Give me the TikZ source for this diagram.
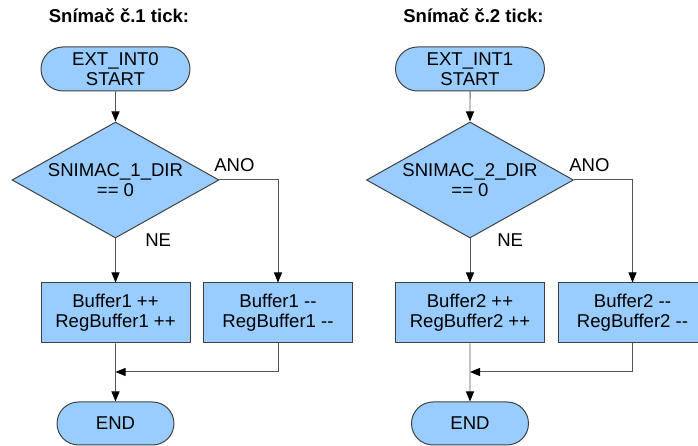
\documentclass[tikz,border=0pt]{standalone}
\usepackage{fontspec}
\setmainfont{Liberation Sans}
\usetikzlibrary{shapes.geometric,shapes.misc,arrows.meta}
\definecolor{boxblue}{HTML}{99CCFF}
\definecolor{linegray}{HTML}{555555}
\tikzset{
  base/.style={draw=black!75, fill=boxblue, line width=0.7pt, align=center, inner sep=0pt, font=\fontsize{13.2}{14.2}\selectfont},
  startstop/.style={base, rounded rectangle, minimum width=3.725cm, minimum height=1.1cm},
  endstop/.style={base, rounded rectangle, minimum width=2.925cm, minimum height=1.075cm},
  decision/.style={base, diamond, aspect=1.785, minimum width=5.175cm, minimum height=2.9cm},
  process/.style={base, rectangle, minimum width=3.725cm, minimum height=1.5cm},
  arrow/.style={draw=linegray, line width=0.7pt, -{Triangle[length=2.5mm,width=2mm,color=black]}},
  branch/.style={font=\fontsize{13.2}{14.2}\selectfont, inner sep=0pt},
  heading/.style={font=\bfseries\fontsize{13.2}{14.2}\selectfont, inner sep=0pt}
}
\begin{document}
\begin{tikzpicture}
        \clip (0,0) rectangle (17.45,11.15);

        % first sensor
        \node [heading, anchor=base] (title1) at (2.975,10.575) {Snímač č.1 tick:};
        \node [startstop] (start1) at (2.8875,9.425) {EXT\_INT0\\START};
        \node [decision] (test1) at (2.8875,6.65) {SNIMAC\_1\_DIR\\== 0};
        \node [process] (plus1) at (2.8875,3.325) {Buffer1 ++\\RegBuffer1 ++};
        \node [process] (minus1) at (6.95,3.325) {Buffer1 {-}{-}\\RegBuffer1 {-}{-}};
        \coordinate (merge1) at (2.8875,1.85);
        \node [endstop] (end1) at (2.8875,0.5625) {END};
        \node [branch, anchor=base west] (ano1) at (5.35,6.85) {ANO};
        \node [branch, anchor=base west] (ne1) at (3.625,4.975) {NE};
        \draw [arrow] (start1) -- (test1);
        \draw [arrow] (test1) -- (plus1);
        \draw [arrow] (test1.east) -| (minus1.north);
        \draw [arrow] (minus1.south) |- (merge1);
        \draw [arrow] (plus1) -- (end1);

        % second sensor
        \node [heading, anchor=base] (title2) at (11.8375,10.575) {Snímač č.2 tick:};
        \node [startstop] (start2) at (11.75,9.425) {EXT\_INT1\\START};
        \node [decision] (test2) at (11.75,6.65) {SNIMAC\_2\_DIR\\== 0};
        \node [process] (plus2) at (11.75,3.325) {Buffer2 ++\\RegBuffer2 ++};
        \node [process] (minus2) at (15.8125,3.325) {Buffer2 {-}{-}\\RegBuffer2 {-}{-}};
        \coordinate (merge2) at (11.75,1.85);
        \node [endstop] (end2) at (11.75,0.5625) {END};
        \node [branch, anchor=base west] (ano2) at (14.225,6.85) {ANO};
        \node [branch, anchor=base west] (ne2) at (12.425,4.975) {NE};
        \draw [arrow] (start2) -- (test2);
        \draw [arrow] (test2) -- (plus2);
        \draw [arrow] (test2.east) -| (minus2.north);
        \draw [arrow] (minus2.south) |- (merge2);
        \draw [arrow] (plus2) -- (end2);
    \end{tikzpicture}
\end{document}
